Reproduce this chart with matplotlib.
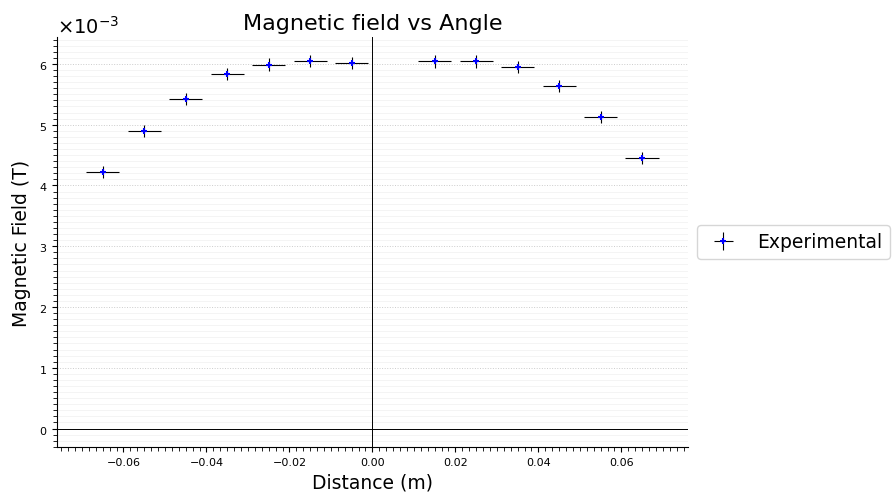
import numpy as np
import matplotlib.pyplot as plt
from matplotlib.ticker import AutoMinorLocator

# distance from centre (m) and measured field (T)
distance = [-0.065, -0.055, -0.045, -0.035, -0.025, -0.015, -0.005,
            0.015, 0.025, 0.035, 0.045, 0.055, 0.065]
field = [4.225e-3, 4.90e-3, 5.425e-3, 5.835e-3, 5.99e-3, 6.05e-3, 6.02e-3,
         6.04e-3, 6.04e-3, 5.95e-3, 5.64e-3, 5.12e-3, 4.455e-3]
dist_err = [0.004] * len(distance)
field_err = [0.1e-3] * len(field)

fig, ax = plt.subplots(figsize=(8.92, 5.02), dpi=100)
fig.subplots_adjust(left=0.064, right=0.771, bottom=0.108, top=0.924)

ax.errorbar(distance, field, xerr=dist_err, yerr=field_err, fmt='+',
            color='blue', ecolor='k', elinewidth=0.8, markersize=5,
            markeredgewidth=1.5, label='Experimental')

ax.axhline(0, color='k', lw=0.7)
ax.axvline(0, color='k', lw=0.7)

ax.set_xlim(-0.076, 0.076)
ax.set_ylim(-0.3e-3, 6.44e-3)
ax.ticklabel_format(axis='y', style='sci', scilimits=(0, 0), useMathText=True)
ax.yaxis.get_offset_text().set_fontsize(14)
ax.xaxis.set_minor_locator(AutoMinorLocator(12))
ax.yaxis.set_minor_locator(AutoMinorLocator(10))
ax.tick_params(labelsize=8)
ax.tick_params(which='minor', length=3)

ax.grid(axis='y', which='major', ls=':', color='#cccccc', lw=0.7)
ax.grid(axis='y', which='minor', ls='-', color='#f2f2f2', lw=0.6)
ax.spines['top'].set_visible(False)
ax.spines['right'].set_visible(False)

ax.set_title('Magnetic field vs Angle', fontsize=16)
ax.set_xlabel('Distance (m)', fontsize=13.5)
ax.set_ylabel('Magnetic Field (T)', fontsize=13.5, labelpad=6)
ax.legend(loc='center left', bbox_to_anchor=(1.0, 0.5), fontsize=13.5)

plt.savefig('out.png')
